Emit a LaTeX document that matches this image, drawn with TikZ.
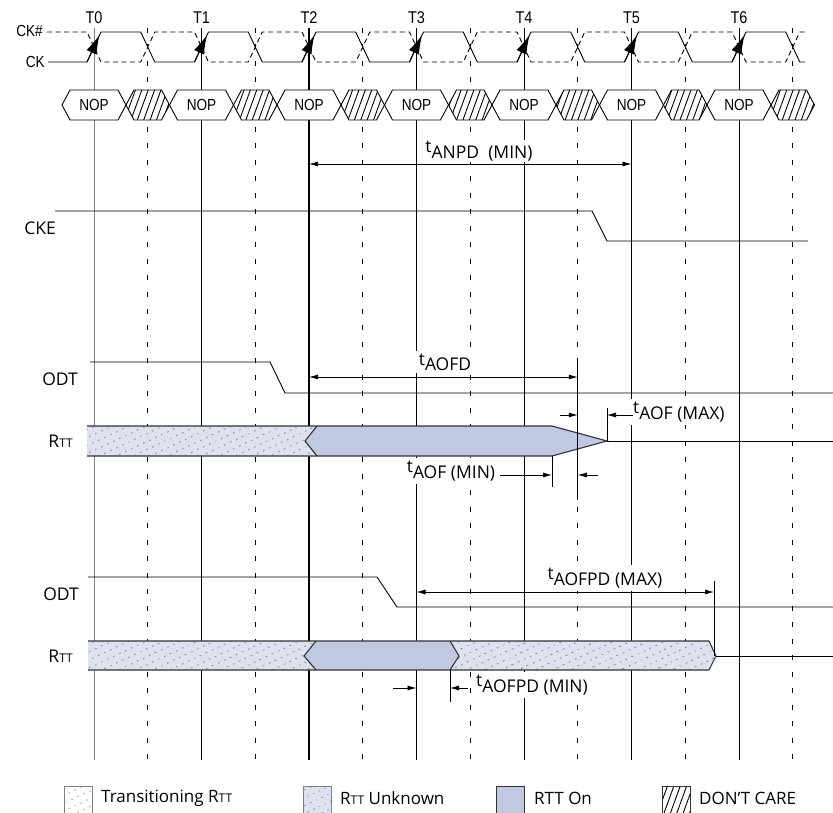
\documentclass[tikz,border=0pt]{standalone}
\usepackage{fontspec}
\setmainfont{Open Sans}
\newfontfamily\condfont[FakeStretch=0.85]{Liberation Sans}
\usetikzlibrary{arrows.meta,patterns.meta}

\definecolor{rtton}{RGB}{192,200,226}
\definecolor{rttunk}{RGB}{222,225,240}
\definecolor{dotgray}{RGB}{115,115,130}

\newcommand{\tpar}[1]{\raisebox{0.3em}{t}#1}
\newcommand{\rtt}{R{\fontsize{12}{13}\selectfont TT}}

\tikzset{
  sig/.style={line width=0.9pt},
  halfline/.style={line width=0.8pt, dash pattern=on 5pt off 11.5pt},
  clk/.style={font=\condfont\fontsize{16}{18}\selectfont, inner sep=1pt},
  lbl/.style={font=\fontsize{17.5}{19}\selectfont, inner sep=1pt},
  dimlbl/.style={lbl, fill=white, inner sep=3pt},
  leglbl/.style={font=\fontsize{17}{19}\selectfont, inner sep=1pt, anchor=west},
  bar/.style={draw=black!80, line width=1.1pt},
  unknown/.style={fill=rttunk, postaction={pattern={Dots[distance=6.5pt, radius=0.75pt, angle=25]}, pattern color=dotgray}},
  dontcare/.style={preaction={fill=white}, preaction={pattern={Lines[angle=70, distance=6pt, line width=0.9pt]}, pattern color=black}},
  dim/.style={line width=0.7pt},
  marker/.style={line width=1pt},
}

\begin{document}
\begin{tikzpicture}[x=1pt, y=-1pt, >={Latex[length=9pt,width=5pt]}]
    \useasboundingbox (0,0) rectangle (833,813);

    % 1. Grid of clock edges
    \foreach \i/\lw/\col [evaluate=\i as \tx using {94+107.5*\i}] in
        {0/0.8/gray, 1/0.7/black, 2/1.8/black, 3/0.8/black, 4/0.8/black, 5/1.8/black, 6/0.8/black} {
        \coordinate (T\i) at (\tx,28);
        \coordinate (B\i) at (\tx,760);
        \draw[line width=\lw pt, draw=\col] (T\i) -- (B\i);
        \node[clk, font=\condfont\fontsize{17}{19}\selectfont] (lt\i) at (\tx,18) {T\i};
    }
    \foreach \i [evaluate=\i as \mx using {147.75+107.5*\i}] in {0,...,6} {
        \coordinate (M\i) at (\mx,28);
        \coordinate (N\i) at (\mx,760);
        \draw[halfline] (M\i) -- (N\i);
    }

    % 2. Clock pair
    \node[clk, anchor=east] (ckbar) at (44,31) {CK\#};
    \node[clk, anchor=east] (ck) at (46,62) {CK};
    \draw[sig, dash pattern=on 5pt off 3.5pt] (47,32)
        \foreach \i [evaluate=\i as \tx using {94+107.5*\i}] in {0,...,6} {
            -- ({\tx-7},32) -- ({\tx+7},62) -- ({\tx+46.75},62) -- ({\tx+60.75},32) } -- (805,32);
    \draw[sig] (48,62)
        \foreach \i [evaluate=\i as \tx using {94+107.5*\i}] in {0,...,6} {
            -- ({\tx-7},62) -- ({\tx+7},32) -- ({\tx+46.75},32) -- ({\tx+60.75},62) } -- (805,62);
    \foreach \i [evaluate=\i as \tx using {94+107.5*\i}] in {0,...,6}
        \draw[line width=1pt, -{Latex[length=19pt,width=11pt]}] ({\tx-7},62) -- ({\tx+5.5},35);

    % 3. Command bus
    \foreach \i [evaluate=\i as \tx using {94+107.5*\i}] in {0,...,6} {
        \draw[sig, fill=white] ({\tx-32},105) -- ({\tx-24},90) -- ({\tx+24},90) -- ({\tx+32},105)
            -- ({\tx+24},120) -- ({\tx-24},120) -- cycle;
        \node[font=\condfont\fontsize{16}{18}\selectfont] (nop\i) at (\tx,105) {NOP};
        \draw[sig, dontcare] ({\tx+32},105) -- ({\tx+40},90) -- ({\tx+67.5},90) -- ({\tx+75.5},105)
            -- ({\tx+67.5},120) -- ({\tx+40},120) -- cycle;
    }

    % 4. tANPD and CKE
    \coordinate (anpdL) at (309,164);
    \coordinate (anpdR) at (631.5,164);
    \draw[dim, <->] (anpdL) -- (anpdR);
    \node[lbl, fill=white] (tanpd) at (479,151) {\tpar{ANPD\ \ (MIN)}};
    \node[lbl, anchor=east] (cke) at (57,228) {CKE};
    \draw[sig] (55,211) -- (592,211) -- (607,241) -- (808,241);

    % 5. ODT and RTT, powerdown entry
    \node[lbl, anchor=east] (odta) at (79,379) {ODT};
    \draw[sig] (90,362) -- (270,362) -- (285,393) -- (833,393);
    \node[lbl, anchor=east] (rtta) at (74,441) {\rtt};
    \path[unknown] (87,426) -- (317,426) -- (305,441) -- (317,456) -- (87,456) -- cycle;
    \path[fill=rtton] (317,426) -- (552,426) -- (607,441) -- (552,456) -- (317,456) -- (305,441) -- cycle;
    \draw[bar] (87,426) -- (552,426) -- (607,441) -- (552,456) -- (87,456);
    \draw[bar] (317,426) -- (305,441) -- (317,456);
    \draw[sig] (607,441) -- (833,441);

    \coordinate (aofdL) at (309,377);
    \coordinate (aofdR) at (577.75,377);
    \draw[dim, <->] (aofdL) -- (aofdR);
    \node[dimlbl] (taofd) at (445,362) {\tpar{AOFD}};
    \coordinate (mkA1) at (577.75,362);
    \coordinate (mkA2) at (577.75,500);
    \draw[marker] (mkA1) -- (mkA2);

    \coordinate (mkB1) at (607,408);
    \coordinate (mkB2) at (607,441);
    \draw[marker] (mkB1) -- (mkB2);
    \node[dimlbl, anchor=west] (taofmax) at (630,412) {\tpar{AOF (MAX)}};
    \coordinate (amaxA) at (560,415);
    \coordinate (amaxB) at (577.75,415);
    \coordinate (amaxC) at (633,415);
    \coordinate (amaxD) at (607,415);
    \draw[dim, ->] (amaxA) -- (amaxB);
    \draw[dim, ->] (amaxC) -- (amaxD);

    \coordinate (mkC1) at (552,456);
    \coordinate (mkC2) at (552,487);
    \draw[marker] (mkC1) -- (mkC2);
    \node[dimlbl] (taofmin) at (451,471) {\tpar{AOF (MIN)}};
    \coordinate (aminA) at (500,475);
    \coordinate (aminB) at (552,475);
    \coordinate (aminC) at (598,475);
    \coordinate (aminD) at (577.75,475);
    \draw[dim, ->] (aminA) -- (aminB);
    \draw[dim, ->] (aminC) -- (aminD);

    % 6. ODT and RTT, late ODT turn-off
    \node[lbl, anchor=east] (odtb) at (80,594) {ODT};
    \draw[sig] (88,577) -- (377,577) -- (397,607) -- (833,607);
    \node[lbl, anchor=east] (rttb) at (74,656) {\rtt};
    \path[unknown] (88,641) -- (316,641) -- (304,656) -- (316,670) -- (88,670) -- cycle;
    \path[fill=rtton] (316,641) -- (450,641) -- (459,656) -- (450,670) -- (316,670) -- (304,656) -- cycle;
    \path[unknown] (450,641) -- (709,641) -- (716,656) -- (709,670) -- (450,670) -- (459,656) -- cycle;
    \draw[bar] (88,641) -- (709,641) -- (716,656) -- (709,670) -- (88,670);
    \draw[bar] (316,641) -- (304,656) -- (316,670);
    \draw[bar] (450,641) -- (459,656) -- (450,670);
    \draw[sig] (716,656) -- (833,656);

    \coordinate (apdL) at (416.5,592);
    \coordinate (apdR) at (714,592);
    \draw[dim, <->] (apdL) -- (apdR);
    \node[dimlbl] (taofpdmax) at (605,578) {\tpar{AOFPD (MAX)}};
    \coordinate (mkD1) at (714,581);
    \coordinate (mkD2) at (714,656);
    \draw[marker] (mkD1) -- (mkD2);

    \coordinate (mkE1) at (450,670);
    \coordinate (mkE2) at (450,702);
    \draw[marker] (mkE1) -- (mkE2);
    \node[dimlbl, anchor=west] (taofpdmin) at (473,685) {\tpar{AOFPD (MIN)}};
    \coordinate (apmA) at (393,688);
    \coordinate (apmB) at (416.5,688);
    \coordinate (apmC) at (468,688);
    \coordinate (apmD) at (450,688);
    \draw[dim, ->] (apmA) -- (apmB);
    \draw[dim, ->] (apmC) -- (apmD);

    % 7. Legend
    \path[fill=white, postaction={pattern={Dots[distance=6.5pt, radius=0.7pt, angle=25]}, pattern color=dotgray}]
        (64,786) rectangle (92,813);
    \draw[draw=gray, line width=0.5pt] (64,786) rectangle (92,813);
    \node[leglbl] (legtr) at (100,798) {Transitioning \rtt};
    \draw[unknown, draw=gray, line width=0.5pt] (303,786) rectangle (331,813);
    \node[leglbl] (legunk) at (339,798) {\rtt\ Unknown};
    \draw[fill=rtton, draw=black!80, line width=0.7pt] (496,786) rectangle (524,813);
    \node[leglbl] (legon) at (533,798) {RTT On};
    \draw[dontcare, draw=black!80, line width=0.6pt] (662,786) rectangle (690,813);
    \node[leglbl] (legdc) at (698,798) {DON’T CARE};
\end{tikzpicture}
\end{document}
